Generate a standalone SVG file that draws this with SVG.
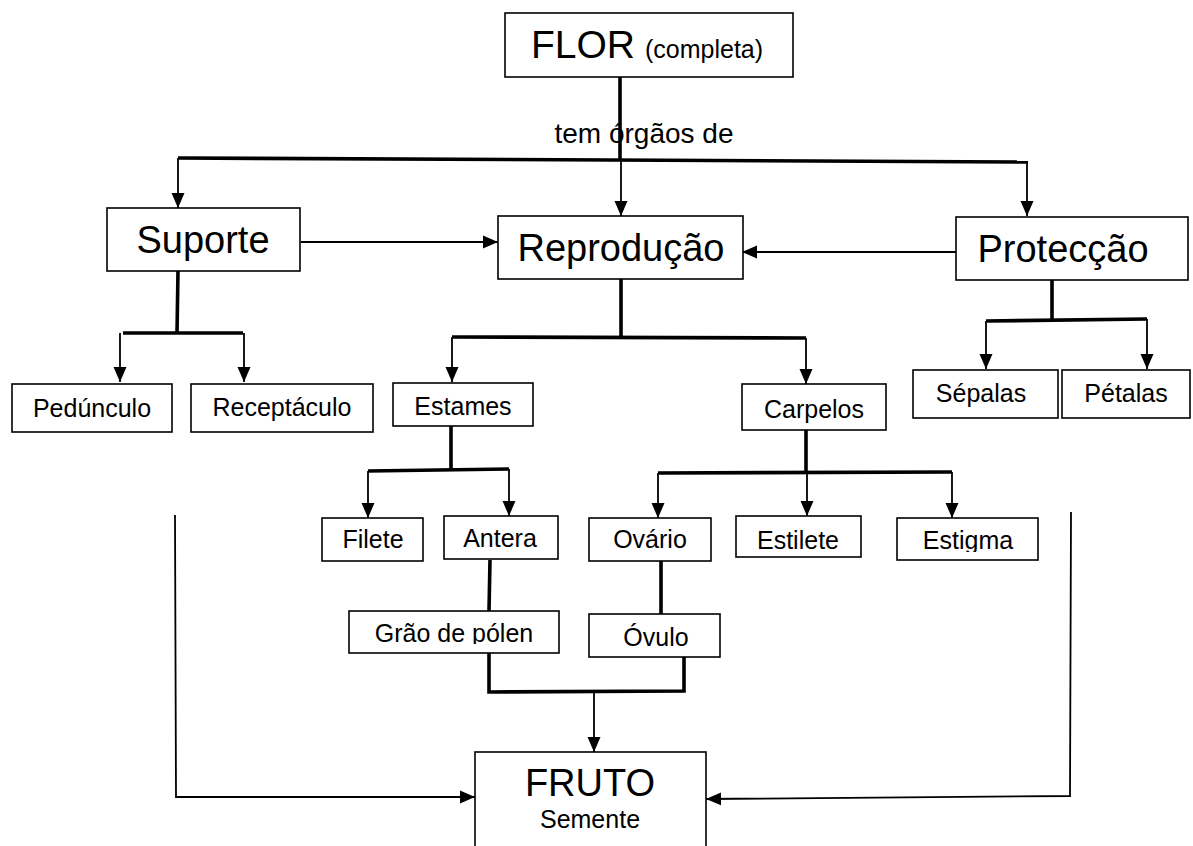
<svg xmlns="http://www.w3.org/2000/svg" width="1193" height="846" viewBox="0 0 1193 846">
<style>
.box{fill:#fff;stroke:#000;stroke-width:1.6}
.t{font-family:"Liberation Sans",Arial,sans-serif;fill:#000;text-anchor:middle}
.big{font-size:38px}
.sm{font-size:25px}
.thick{fill:none;stroke:#000;stroke-width:3.6}
.thin{fill:none;stroke:#000;stroke-width:1.6}
.arr{fill:none;stroke:#000;stroke-width:1.8;marker-end:url(#ah)}
</style>
<defs>
<marker id="ah" markerUnits="userSpaceOnUse" markerWidth="16" markerHeight="16" viewBox="0 0 16 16" refX="15" refY="8" orient="auto">
<path d="M0,1.5 L15,8 L0,14.5 Z" fill="#000"/>
</marker>
<clipPath id="clipEstigma"><rect x="897" y="518" width="141" height="34"/></clipPath>
<clipPath id="clipGrao"><rect x="349" y="611" width="210" height="33"/></clipPath>
</defs>
<rect width="1193" height="846" fill="#fff"/>

<g id="connectors">
<line class="thick" x1="620" y1="77" x2="620" y2="161"/>
<line class="arr" x1="621" y1="161" x2="621" y2="216"/>
<polyline class="thick" points="178,158 1028,162"/>
<line class="arr" x1="178" y1="158" x2="178" y2="208"/>
<line class="arr" x1="1027" y1="162" x2="1027" y2="216"/>
<line class="arr" x1="301" y1="242" x2="498" y2="242"/>
<line class="arr" x1="956" y1="252" x2="742" y2="252"/>
<line class="thick" x1="178" y1="271" x2="177" y2="333"/>
<line class="thick" x1="123" y1="333" x2="243" y2="333"/>
<line class="arr" x1="120" y1="333" x2="120" y2="382"/>
<line class="arr" x1="244" y1="333" x2="244" y2="382"/>
<line class="thick" x1="621" y1="279" x2="621" y2="337"/>
<line class="thick" x1="452" y1="337" x2="806" y2="338"/>
<line class="arr" x1="452" y1="337" x2="452" y2="382"/>
<line class="arr" x1="806" y1="338" x2="806" y2="384"/>
<line class="thick" x1="1052" y1="280" x2="1052" y2="320"/>
<line class="thick" x1="986" y1="321" x2="1147" y2="319"/>
<line class="arr" x1="986" y1="321" x2="986" y2="369"/>
<line class="arr" x1="1147" y1="319" x2="1147" y2="369"/>
<line class="thick" x1="451" y1="426" x2="451" y2="470"/>
<line class="thick" x1="368" y1="471" x2="509" y2="469"/>
<line class="arr" x1="368" y1="471" x2="368" y2="518"/>
<line class="arr" x1="509" y1="469" x2="509" y2="516"/>
<line class="thick" x1="806" y1="430" x2="806" y2="472"/>
<line class="thick" x1="658" y1="473" x2="952" y2="472"/>
<line class="arr" x1="658" y1="473" x2="658" y2="518"/>
<line class="arr" x1="807" y1="472" x2="807" y2="516"/>
<line class="arr" x1="952" y1="472" x2="952" y2="518"/>
<line class="thick" x1="490" y1="560" x2="489" y2="611"/>
<line class="thick" x1="661" y1="561" x2="661" y2="614"/>
<polyline class="thick" points="489,653 489,692 684,691 684,657"/>
<line class="arr" x1="594" y1="692" x2="594" y2="752"/>
<polyline class="arr" points="175,515 176,797 475,797"/>
<polyline class="arr" points="1071,512 1070,796 706,799"/>
</g>

<g id="flor">
<rect class="box" x="505" y="13" width="288" height="64"/>
<text class="t" y="58" style="text-anchor:start"><tspan x="531" font-size="39">FLOR</tspan><tspan x="645" font-size="25">(completa)</tspan></text>
</g>
<g id="label-tem">
<text class="t" x="644" y="143" font-size="28">tem órgãos de</text>
</g>
<g id="suporte">
<rect class="box" x="107" y="208" width="193" height="63"/>
<text class="t big" x="203" y="253">Suporte</text>
</g>
<g id="reproducao">
<rect class="box" x="498" y="216" width="245" height="63"/>
<text class="t big" x="621" y="261">Reprodução</text>
</g>
<g id="proteccao">
<rect class="box" x="956" y="217" width="232" height="63"/>
<text class="t big" x="1063" y="262">Protecção</text>
</g>
<g id="pedunculo">
<rect class="box" x="12" y="384" width="160" height="48"/>
<text class="t sm" x="92" y="417">Pedúnculo</text>
</g>
<g id="receptaculo">
<rect class="box" x="191" y="384" width="182" height="48"/>
<text class="t sm" x="282" y="416">Receptáculo</text>
</g>
<g id="estames">
<rect class="box" x="393" y="383" width="140" height="43"/>
<text class="t sm" x="463" y="415">Estames</text>
</g>
<g id="carpelos">
<rect class="box" x="742" y="384" width="144" height="46"/>
<text class="t sm" x="814" y="418">Carpelos</text>
</g>
<g id="sepalas">
<rect class="box" x="913" y="370" width="145" height="48"/>
<text class="t sm" x="981" y="402">Sépalas</text>
</g>
<g id="petalas">
<rect class="box" x="1062" y="370" width="128" height="48"/>
<text class="t sm" x="1126" y="402">Pétalas</text>
</g>
<g id="filete">
<rect class="box" x="322" y="518" width="101" height="43"/>
<text class="t sm" x="373" y="548">Filete</text>
</g>
<g id="antera">
<rect class="box" x="444" y="516" width="114" height="43"/>
<text class="t sm" x="500" y="547">Antera</text>
</g>
<g id="ovario">
<rect class="box" x="589" y="518" width="122" height="43"/>
<text class="t sm" x="650" y="548">Ovário</text>
</g>
<g id="estilete">
<rect class="box" x="736" y="516" width="125" height="41"/>
<text class="t sm" x="798" y="549">Estilete</text>
</g>
<g id="estigma">
<rect class="box" x="897" y="518" width="141" height="42"/>
<text class="t sm" x="968" y="549" clip-path="url(#clipEstigma)">Estigma</text>
</g>
<g id="graodepolen">
<rect class="box" x="349" y="611" width="210" height="42"/>
<text class="t sm" x="454" y="642" clip-path="url(#clipGrao)">Grão de pólen</text>
</g>
<g id="ovulo">
<rect class="box" x="589" y="614" width="131" height="43"/>
<text class="t sm" x="656" y="646">Óvulo</text>
</g>
<g id="fruto">
<rect class="box" x="475" y="752" width="231" height="110"/>
<text class="t big" x="590" y="796">FRUTO</text>
<text class="t sm" x="590" y="828">Semente</text>
</g>
</svg>
